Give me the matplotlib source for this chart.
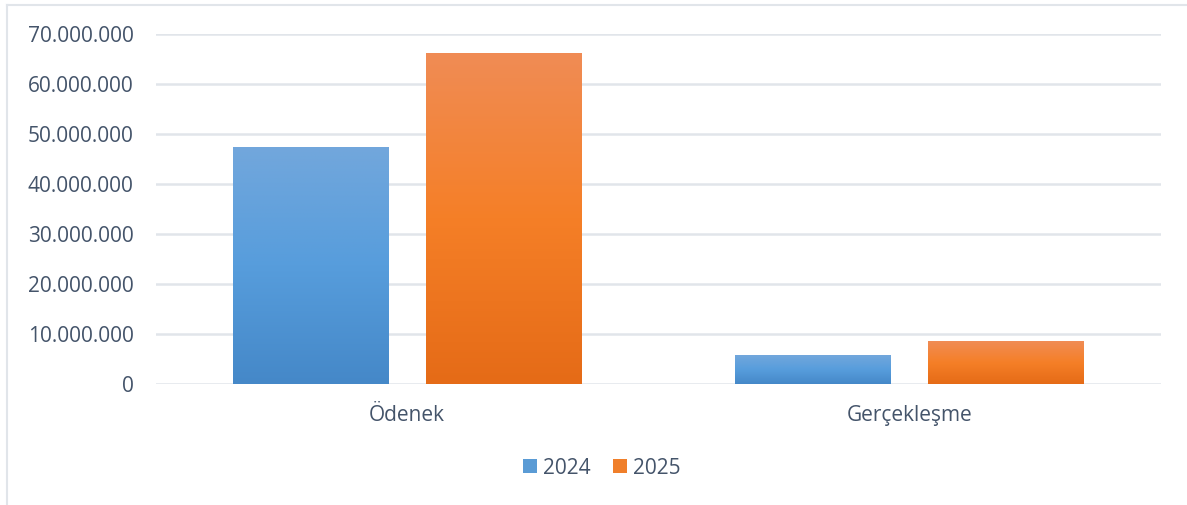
import matplotlib
matplotlib.use("Agg")
import matplotlib.pyplot as plt
import numpy as np
from matplotlib.colors import LinearSegmentedColormap
from matplotlib.lines import Line2D
from matplotlib.patches import Rectangle

categories = ["Ödenek", "Gerçekleşme"]
series_names = ["2024", "2025"]
values_2024 = [47_400_000, 5_800_000]
values_2025 = [66_300_000, 8_600_000]
yticks = [0, 10_000_000, 20_000_000, 30_000_000, 40_000_000, 50_000_000, 60_000_000, 70_000_000]
ytick_labels = ["0", "10.000.000", "20.000.000", "30.000.000", "40.000.000",
                "50.000.000", "60.000.000", "70.000.000"]

text_color = "#44546A"
grid_color = "#E1E5EA"
blue_grad = ["#4588C8", "#579DDC", "#72A7DC"]   # bottom -> top
orange_grad = ["#E56B17", "#F57F27", "#F08C55"]
blue_solid = "#5A9BD5"
orange_solid = "#F07F2A"

plt.rcParams['font.family'] = ['Open Sans', 'DejaVu Sans']

fig = plt.figure(figsize=(11.87, 5.05), dpi=100)
W, H = 1187, 505
ax = fig.add_axes([156 / W, 1 - 384 / H, (1161 - 156) / W, (384 - 34) / H])

x = np.arange(len(categories))
bw = 0.31
off = 0.192

def grad_bars(xs, vals, colors):
    cmap = LinearSegmentedColormap.from_list("g", colors)
    bars = ax.bar(xs, vals, width=bw, color="none", edgecolor="none", zorder=3)
    grad = np.linspace(0, 1, 256).reshape(-1, 1)
    for b in bars:
        x0, y0 = b.get_x(), b.get_y()
        w, h = b.get_width(), b.get_height()
        im = ax.imshow(grad, cmap=cmap, origin="lower", aspect="auto",
                       extent=[x0, x0 + w, y0, y0 + h], zorder=3)
        im.set_clip_path(b)
    return bars

grad_bars(x - off, values_2024, blue_grad)
grad_bars(x + off, values_2025, orange_grad)

ax.set_xlim(-0.5, 1.5)
ax.set_ylim(0, 70_000_000)
ax.set_yticks(yticks)
ax.set_yticklabels(ytick_labels)
ax.set_xticks(x)
ax.set_xticklabels(categories)
ax.yaxis.grid(True, color=grid_color, linewidth=1.8, zorder=0)
ax.set_axisbelow(True)
for s in ax.spines.values():
    s.set_visible(False)
ax.tick_params(axis="both", length=0, colors=text_color, labelsize=15)
ax.tick_params(axis="y", pad=16)
ax.tick_params(axis="x", pad=15)

handles = [Rectangle((0, 0), 1, 1, facecolor=blue_solid),
           Rectangle((0, 0), 1, 1, facecolor=orange_solid)]
leg = fig.legend(handles, series_names, loc="center", bbox_to_anchor=(602 / W, 1 - 468 / H),
                 ncol=2, frameon=False, fontsize=15, handlelength=0.65, handleheight=0.65,
                 handletextpad=0.3, columnspacing=1.1)
for t in leg.get_texts():
    t.set_color(text_color)

# chart border
fig.add_artist(Line2D([7 / W, 7 / W], [0, 1 - 5 / H], color=grid_color, linewidth=1.5))
fig.add_artist(Line2D([7 / W, 1], [1 - 5 / H, 1 - 5 / H], color=grid_color, linewidth=1.5))

fig.savefig("out.png", dpi=100, facecolor="white")
